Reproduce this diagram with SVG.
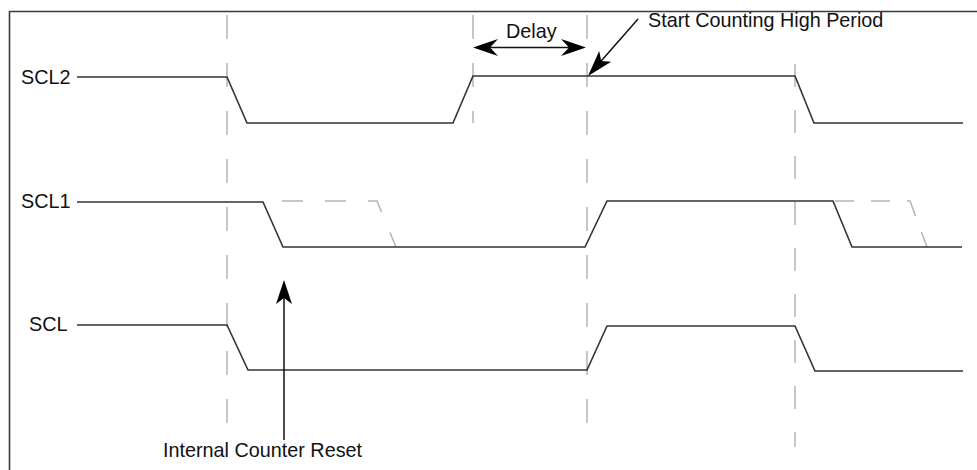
<svg xmlns="http://www.w3.org/2000/svg" width="977" height="470" viewBox="0 0 977 470">
<style>
.frame{stroke:#3a3a3a;stroke-width:1.6;fill:none}
.sig{stroke:#333;stroke-width:1.6;fill:none;stroke-linejoin:miter}
.guide{stroke:#b4b4b4;stroke-width:1.5;fill:none;stroke-dasharray:24 24}
.ghost{stroke:#b4b4b4;stroke-width:1.5;fill:none}
.lbl{font-family:"Liberation Sans",Arial,sans-serif;font-size:19.8px;fill:#111}
.conn{stroke:#111;stroke-width:1.5;fill:none}
.head{fill:#000;stroke:none}
</style>
<rect width="977" height="470" fill="#fff"/>
<g id="frame">
<line class="frame" x1="9.5" y1="11.5" x2="977" y2="11.5"/>
<line class="frame" x1="9.5" y1="11" x2="9.5" y2="470"/>
</g>
<g id="guides">
<line class="guide" x1="227" y1="15" x2="227" y2="423"/>
<line class="guide" x1="473" y1="15" x2="473" y2="123"/>
<line class="guide" x1="587" y1="15" x2="587" y2="423"/>
<line class="guide" x1="795" y1="64" x2="795" y2="447" style="stroke-dasharray:23 23"/>
</g>
<g id="SCL2">
<text class="lbl" x="21" y="84">SCL2</text>
<polyline class="sig" points="77,77 227,77 247,123 453,123 473,76 795,76 814,123 963,123"/>
</g>
<g id="SCL1">
<text class="lbl" x="21" y="208">SCL1</text>
<polyline class="ghost" points="282,201 377,201 396,247" style="stroke-dasharray:21 22"/>
<polyline class="ghost" points="835,201 910,201 927,247" style="stroke-dasharray:19 17"/>
<polyline class="sig" points="77,202 263,202 283,247 585,247 607,201 833,201 852,247 962,247"/>
</g>
<g id="SCL">
<text class="lbl" x="29" y="331">SCL</text>
<polyline class="sig" points="77,325 227,325 248,370 587,370 607,326 795,326 815,371 963,371"/>
</g>
<g id="connectors">
<line class="conn" x1="284" y1="440" x2="284" y2="295"/>
<path class="head" d="M284,280 L292,304 L284,298 L276,304 Z"/>
<line class="conn" x1="487" y1="47.5" x2="574" y2="47.5"/>
<path class="head" d="M473,47.5 L498,39 L490,47.5 L498,56 Z"/>
<path class="head" d="M586,47.5 L561,39 L569,47.5 L561,56 Z"/>
<line class="conn" x1="638" y1="19" x2="599" y2="63.5"/>
<path class="head" d="M588,76 L611.2,61.7 L601.2,61 L599.2,51.1 Z"/>
</g>
<g id="labels">
<text class="lbl" x="506" y="38">Delay</text>
<text class="lbl" x="648" y="27">Start Counting High Period</text>
<text class="lbl" x="163" y="457">Internal Counter Reset</text>
</g>
</svg>
